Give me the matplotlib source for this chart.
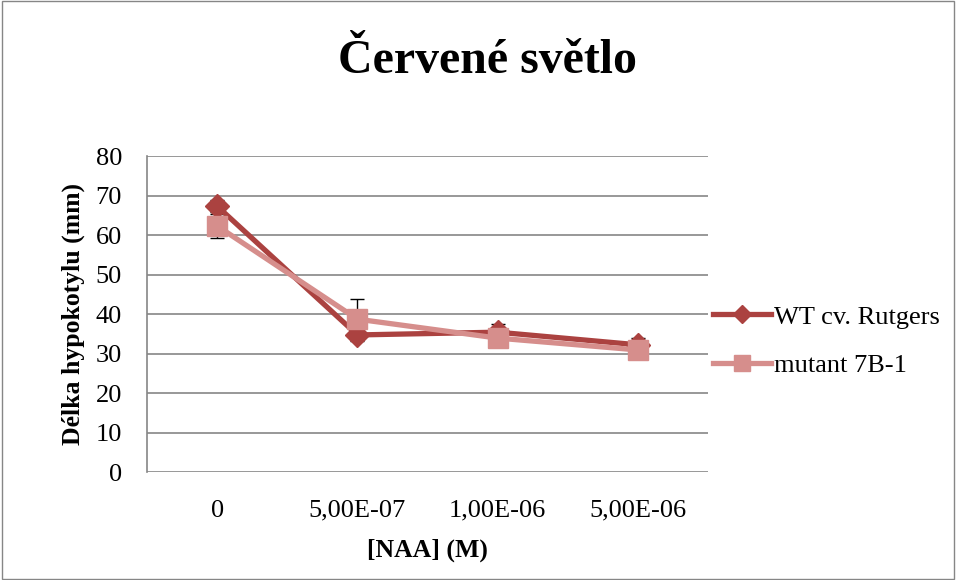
import matplotlib.pyplot as plt
import numpy as np

categories = ["0", "5,00E-07", "1,00E-06", "5,00E-06"]
wt_values = [67.3, 34.7, 35.4, 32.2]
wt_err = [1.5, 1.5, 2.0, 1.8]
mutant_values = [62.3, 38.7, 33.9, 30.9]
mutant_err = [3.0, 5.0, 1.0, 1.0]

plt.rcParams["font.family"] = ["Liberation Serif", "DejaVu Serif"]

fig = plt.figure(figsize=(9.56, 5.8), dpi=100)
ax = fig.add_axes([0.1538, 0.1862, 0.5868, 0.5448])

x = np.arange(len(categories))
wt_color = "#AB4240"
mut_color = "#D68E8C"

ax.errorbar(x, wt_values, yerr=wt_err, fmt="none", ecolor="black", elinewidth=1, capsize=5, zorder=2)
ax.errorbar(x, mutant_values, yerr=mutant_err, fmt="none", ecolor="black", elinewidth=1, capsize=5, zorder=2)
ax.plot(x, wt_values, color=wt_color, linewidth=3.8, marker="D", markersize=12,
        label="WT cv. Rutgers", zorder=3)
ax.plot(x, mutant_values, color=mut_color, linewidth=3.8, marker="s", markersize=14.5,
        label="mutant 7B-1", zorder=4)

ax.set_xlim(-0.5, len(categories) - 0.5)
ax.set_ylim(0, 80)
ax.set_yticks(range(0, 81, 10))
ax.set_xticks(x)
ax.set_xticklabels(categories)
ax.tick_params(axis="x", length=0, labelsize=19, pad=20)
ax.tick_params(axis="y", length=0, labelsize=19, pad=18)
ax.grid(axis="y", color="#868686", linewidth=1.2)
ax.set_axisbelow(True)
for side in ["top", "right", "bottom"]:
    ax.spines[side].set_visible(False)
ax.spines["left"].set_color("#868686")
ax.spines["left"].set_linewidth(1.2)

ax.set_xlabel("[NAA] (M)", fontsize=18.5, fontweight="bold", labelpad=12)
ax.set_ylabel("Délka hypokotylu (mm)", fontsize=18.5, fontweight="bold", labelpad=8)
fig.text(0.51, 0.895, "Červené světlo", ha="center", va="center", fontsize=34.5, fontweight="bold")

ax.legend(loc="center left", bbox_to_anchor=(1.0, 0.414), frameon=False, fontsize=19,
          handlelength=2.2, handletextpad=0.1, labelspacing=0.95, borderaxespad=0.1,
          borderpad=0.1, markerscale=0.8)

# outer chart frame
fig.patches.append(plt.Rectangle((0.002, 0.002), 0.996, 0.996, transform=fig.transFigure,
                                 fill=False, edgecolor="#868686", linewidth=1))

fig.savefig("out.png", dpi=100)
